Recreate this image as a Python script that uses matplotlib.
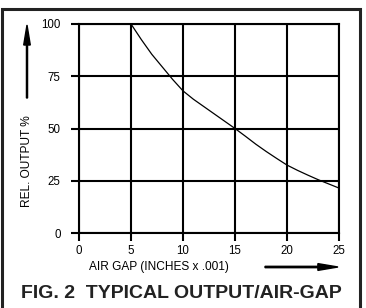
import matplotlib.pyplot as plt
from matplotlib.patches import Rectangle, FancyArrow

# values
gap = [5, 6, 7, 8, 9, 10, 11, 12, 13, 14, 15, 16, 17, 18, 19, 20, 21, 22, 23, 24, 25]
output = [100, 92.5, 85.5, 79.5, 73.5, 68, 64, 60.5, 57, 53.5, 50, 46.3, 42.5, 39,
          35.7, 32.5, 30, 27.7, 25.5, 23.5, 21.5]
xticks = [0, 5, 10, 15, 20, 25]
yticks = [0, 25, 50, 75, 100]

plt.rcParams['font.family'] = ['Liberation Sans', 'DejaVu Sans']

W, H = 366, 308
fig = plt.figure(figsize=(W / 100, H / 100), dpi=100)
ax = fig.add_axes([79 / W, 1 - 233 / H, 260 / W, 209 / H])

ax.plot(gap, output, color='black', lw=0.9)
ax.set_xlim(0, 25)
ax.set_ylim(0, 100)
ax.set_xticks(xticks)
ax.set_yticks(yticks)
ax.grid(True, color='black', lw=1.5)
for s in ax.spines.values():
    s.set_linewidth(1.5)
ax.tick_params(axis='both', length=5.8, width=1.5, labelsize=8.3, colors='black')
ax.tick_params(axis='y', pad=7.5)
ax.tick_params(axis='x', pad=3)

def fx(px):
    return px / W

def fy(py):
    return 1 - py / H

# axis labels with arrows
fig.text(fx(27), fy(161), 'REL. OUTPUT %', rotation=90, ha='center', va='center', fontsize=8.6)
fig.text(fx(159), fy(267), 'AIR GAP (INCHES x .001)', ha='center', va='center', fontsize=8.6)
fig.patches.append(FancyArrow(
    fx(27), fy(98), 0, fy(25) - fy(98), width=0.003, head_width=0.018, head_length=0.065,
    length_includes_head=True, color='black', transform=fig.transFigure))
fig.patches.append(FancyArrow(
    fx(265), fy(267), fx(338) - fx(265), 0, width=0.0045, head_width=0.022, head_length=0.055,
    length_includes_head=True, color='black', transform=fig.transFigure))

fig.text(fx(181), fy(293), 'FIG. 2  TYPICAL OUTPUT/AIR-GAP', ha='center', va='center',
         fontsize=14, fontweight='bold', color='#222222')

# outer frame
fig.patches.append(Rectangle((fx(1.5), fy(330)), fx(359.5) - fx(1.5), fy(9) - fy(330),
                             fill=False, lw=2.2, edgecolor='#222222',
                             transform=fig.transFigure, clip_on=False))

fig.savefig('out.png', dpi=100)
